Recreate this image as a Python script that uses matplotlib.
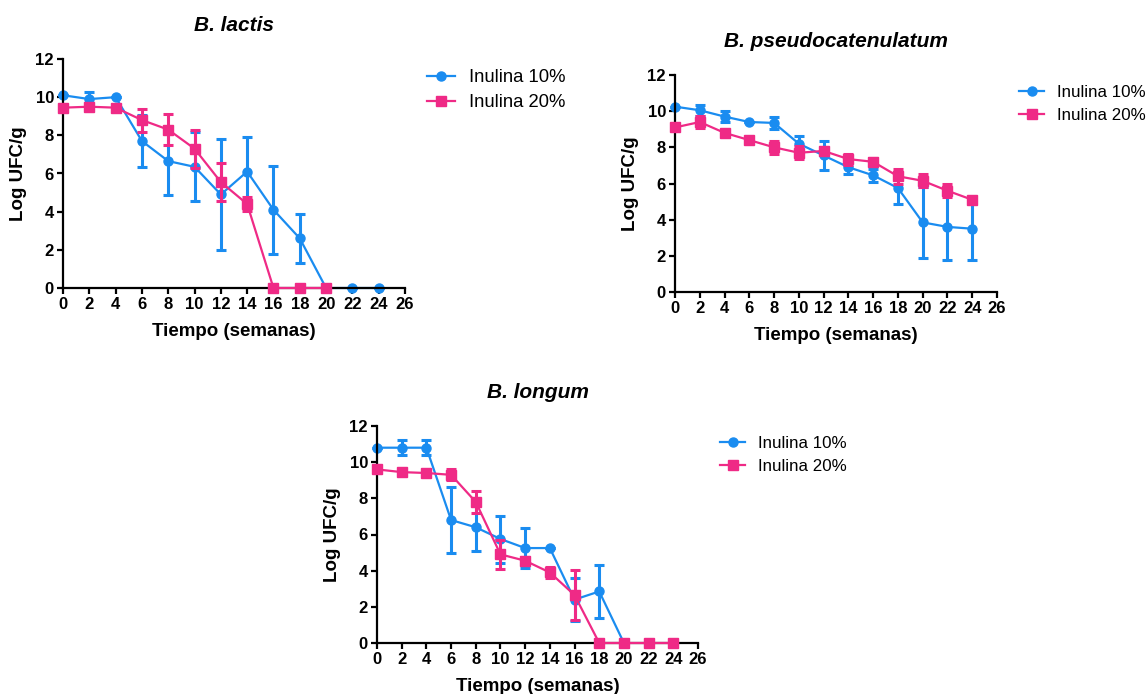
import numpy as np
import matplotlib
matplotlib.use("Agg")
import matplotlib.pyplot as plt

plt.rcParams["font.family"] = ["Liberation Sans", "DejaVu Sans"]

BLUE = "#1a8cf0"
PINK = "#ef2a86"

weeks = np.arange(0, 26, 2)

# B. lactis
lac_10 = [10.1, 9.9, 10.0, 7.7, 6.65, 6.35, 4.9, 6.1, 4.1, 2.6, 0, 0, 0]
lac_10_sd = [0, 0.35, 0, 1.35, 1.8, 1.8, 2.9, 1.8, 2.3, 1.3, 0, 0, 0]
lac_20 = [9.45, 9.5, 9.45, 8.8, 8.3, 7.3, 5.55, 4.4, 0, 0, 0]
lac_20_sd = [0, 0, 0, 0.6, 0.8, 1.0, 1.0, 0.35, 0, 0, 0]

# B. pseudocatenulatum
pse_10 = [10.25, 10.05, 9.7, 9.4, 9.35, 8.2, 7.55, 6.9, 6.45, 5.75, 3.85, 3.6, 3.5]
pse_10_sd = [0, 0.3, 0.3, 0, 0.35, 0.4, 0.8, 0.35, 0.35, 0.9, 1.95, 1.85, 1.75]
pse_20 = [9.1, 9.4, 8.8, 8.4, 8.0, 7.7, 7.8, 7.35, 7.2, 6.4, 6.15, 5.6, 5.1]
pse_20_sd = [0, 0.35, 0, 0, 0.35, 0.35, 0.2, 0.3, 0.2, 0.4, 0.35, 0.35, 0.15]

# B. longum
lon_10 = [10.8, 10.8, 10.8, 6.8, 6.4, 5.75, 5.25, 5.25, 2.4, 2.85, 0]
lon_10_sd = [0, 0.4, 0.4, 1.85, 1.3, 1.3, 1.1, 0, 1.2, 1.45, 0]
lon_20 = [9.6, 9.45, 9.4, 9.3, 7.8, 4.9, 4.55, 3.9, 2.65, 0, 0, 0, 0]
lon_20_sd = [0, 0, 0, 0.3, 0.6, 0.8, 0.2, 0.3, 1.4, 0, 0, 0, 0]

W, H = 1148, 694

# title, axes box in pixels (left, top, right, bottom), legend font size, series
panels = [
    ("B. lactis", (63, 59, 405, 288), 13.3,
     (lac_10, lac_10_sd), (lac_20, lac_20_sd)),
    ("B. pseudocatenulatum", (675, 75, 997, 292), 12.2,
     (pse_10, pse_10_sd), (pse_20, pse_20_sd)),
    ("B. longum", (377, 426, 698, 643), 12.2,
     (lon_10, lon_10_sd), (lon_20, lon_20_sd)),
]

fig = plt.figure(figsize=(W / 100, H / 100), dpi=100)

for title, (l, t, r, b), lfs, s10, s20 in panels:
    ax = fig.add_axes([l / W, 1 - b / H, (r - l) / W, (b - t) / H])
    for (y, sd), col, mk, lab, z in [(s10, BLUE, "o", "Inulina 10%", 2),
                                     (s20, PINK, "s", "Inulina 20%", 3)]:
        x = weeks[:len(y)]
        ax.errorbar(x, y, yerr=sd, color=col, marker=mk, ms=6.5, lw=1.6,
                    elinewidth=2.2, capsize=3.8, capthick=2.2, label=lab,
                    zorder=z, clip_on=False)
    ax.set_xlim(0, 26)
    ax.set_ylim(0, 12)
    ax.set_xticks(range(0, 27, 2))
    ax.set_yticks(range(0, 13, 2))
    for sp in ("top", "right"):
        ax.spines[sp].set_visible(False)
    for sp in ("left", "bottom"):
        ax.spines[sp].set_linewidth(1.6)
    ax.tick_params(width=1.6, length=4.5, labelsize=12, pad=2)
    for tl in ax.get_xticklabels() + ax.get_yticklabels():
        tl.set_fontweight("bold")
    ax.set_xlabel("Tiempo (semanas)", fontsize=13.5, fontweight="bold", labelpad=8)
    ax.set_ylabel("Log UFC/g", fontsize=13.5, fontweight="bold", labelpad=6)
    ax.set_title(title, fontsize=15, fontweight="bold", style="italic", pad=20)
    h, lb = ax.get_legend_handles_labels()
    h = [hh[0] for hh in h]
    ax.legend(h, lb, loc="upper left",
              bbox_to_anchor=(1 + 22 / (r - l), 1 - 10 / (b - t)),
              frameon=False, fontsize=lfs, handlelength=1.5, handletextpad=0.75,
              labelspacing=0.45, borderaxespad=0, borderpad=0)

fig.savefig("out.png", dpi=100)
